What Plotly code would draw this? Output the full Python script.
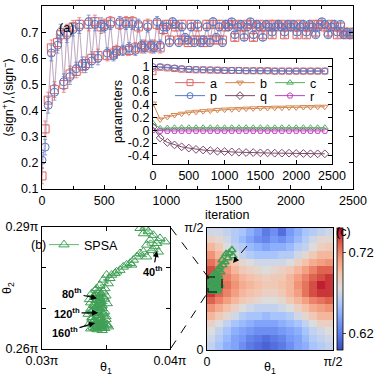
import plotly.graph_objects as go

W, H = 374, 376
def fx(p): return p / W
def fy(p): return 1 - p / H

# ---------------- panel (a): main series ----------------
iters = list(range(0, 2501, 25))
sign_plus = [0.15, 0.33, 0.44, 0.64, 0.48, 0.66, 0.69, 0.50, 0.70, 0.54,
             0.72, 0.55, 0.73, 0.57, 0.58, 0.73, 0.60, 0.74, 0.61, 0.72,
             0.73, 0.61, 0.74, 0.62, 0.63, 0.73, 0.62, 0.74, 0.63, 0.74,
             0.64, 0.72, 0.64, 0.65, 0.73, 0.64, 0.65, 0.73, 0.64, 0.71,
             0.73, 0.67, 0.73, 0.72, 0.67, 0.73, 0.67, 0.66, 0.73, 0.67,
             0.72, 0.67, 0.66, 0.73, 0.67, 0.73, 0.67, 0.73, 0.67, 0.72,
             0.73, 0.73, 0.68, 0.73, 0.72, 0.69, 0.73, 0.73, 0.68, 0.72,
             0.73, 0.69, 0.72, 0.73, 0.69, 0.73, 0.72, 0.73, 0.69, 0.72,
             0.73, 0.72, 0.69, 0.73, 0.72, 0.69, 0.72, 0.73, 0.70, 0.73,
             0.73, 0.72, 0.70, 0.73, 0.72, 0.69, 0.72, 0.70, 0.69, 0.70,
             0.69]
sign_plus_err = [0.03, 0.03, 0.03, 0.03, 0.03, 0.03, 0.03, 0.03, 0.03, 0.03,
                 0.025, 0.025, 0.025, 0.025, 0.025, 0.025, 0.025, 0.025, 0.025, 0.025,
                 0.02, 0.02, 0.02, 0.02, 0.02, 0.02, 0.02, 0.02, 0.02, 0.02,
                 0.02, 0.02, 0.02, 0.02, 0.02, 0.02, 0.02, 0.02, 0.02, 0.02,
                 0.015, 0.015, 0.015, 0.015, 0.015, 0.015, 0.015, 0.015, 0.015, 0.015,
                 0.015, 0.015, 0.015, 0.015, 0.015, 0.015, 0.015, 0.015, 0.015, 0.015,
                 0.012, 0.012, 0.012, 0.012, 0.012, 0.012, 0.012, 0.012, 0.012, 0.012,
                 0.012, 0.012, 0.012, 0.012, 0.012, 0.012, 0.012, 0.012, 0.012, 0.012,
                 0.012, 0.012, 0.012, 0.012, 0.012, 0.012, 0.012, 0.012, 0.012, 0.012,
                 0.012, 0.012, 0.012, 0.012, 0.012, 0.012, 0.012, 0.012, 0.012, 0.012,
                 0.012]
sign_minus = [0.21, 0.26, 0.42, 0.62, 0.47, 0.65, 0.70, 0.51, 0.69, 0.53,
              0.71, 0.56, 0.72, 0.58, 0.57, 0.74, 0.59, 0.73, 0.60, 0.73,
              0.72, 0.62, 0.73, 0.61, 0.62, 0.74, 0.63, 0.73, 0.64, 0.73,
              0.63, 0.73, 0.65, 0.64, 0.72, 0.65, 0.64, 0.74, 0.65, 0.72,
              0.72, 0.66, 0.74, 0.73, 0.66, 0.72, 0.68, 0.67, 0.72, 0.66,
              0.73, 0.66, 0.67, 0.72, 0.66, 0.74, 0.68, 0.72, 0.66, 0.73,
              0.72, 0.74, 0.69, 0.72, 0.73, 0.68, 0.72, 0.74, 0.69, 0.73,
              0.72, 0.68, 0.73, 0.72, 0.70, 0.72, 0.73, 0.72, 0.70, 0.73,
              0.72, 0.73, 0.70, 0.72, 0.73, 0.70, 0.73, 0.72, 0.69, 0.72,
              0.74, 0.73, 0.69, 0.72, 0.73, 0.70, 0.73, 0.69, 0.70, 0.69,
              0.70]
sign_minus_err = sign_plus_err

# ---------------- inset: parameters ----------------
param_iters = list(range(0, 2401, 100))
param_a = [0.92, 0.99, 0.98, 0.97, 0.96, 0.955, 0.95, 0.95, 0.945, 0.945, 0.94, 0.94, 0.94,
           0.935, 0.935, 0.935, 0.935, 0.93, 0.93, 0.93, 0.93, 0.93, 0.93, 0.93, 0.93]
param_p = [1.0, 1.0, 0.99, 0.98, 0.97, 0.96, 0.955, 0.95, 0.95, 0.945, 0.94, 0.94, 0.94,
           0.935, 0.935, 0.935, 0.935, 0.93, 0.93, 0.93, 0.93, 0.93, 0.93, 0.93, 0.93]
param_b = [0.42, 0.17, 0.21, 0.24, 0.26, 0.28, 0.29, 0.30, 0.31, 0.32, 0.325, 0.33, 0.335,
           0.34, 0.345, 0.35, 0.35, 0.355, 0.355, 0.36, 0.36, 0.365, 0.365, 0.37, 0.37]
param_c = [0.11, 0.03, 0.035, 0.04, 0.04, 0.04, 0.04, 0.04, 0.04, 0.04, 0.04, 0.04, 0.04,
           0.04, 0.04, 0.04, 0.04, 0.04, 0.04, 0.04, 0.04, 0.04, 0.04, 0.04, 0.04]
param_q = [0.05, -0.12, -0.19, -0.23, -0.26, -0.28, -0.30, -0.31, -0.32, -0.33, -0.335, -0.34,
           -0.345, -0.35, -0.35, -0.355, -0.355, -0.36, -0.36, -0.36, -0.365, -0.365, -0.37, -0.37, -0.37]
param_r = [0.0, -0.01, -0.01, -0.01, -0.01, -0.01, -0.01, -0.01, -0.01, -0.01, -0.01, -0.01, -0.01,
           -0.01, -0.01, -0.01, -0.01, -0.01, -0.01, -0.01, -0.01, -0.01, -0.01, -0.01, -0.01]
inset_yticks = [1, 0.8, 0.6, 0.4, 0.2, 0, -0.2, -0.4]
inset_yticktext = ["1", "0.8", "0.6", "0.4", "0.2", "0", "-0.2", "-0.4"]

# ---------------- panel (b): SPSA trajectory (units of pi) ----------------
spsa_theta1 = [0.03766, 0.03805, 0.03792, 0.03831, 0.0387, 0.03922, 0.03961, 0.03896, 0.03844, 0.03818,
               0.03883, 0.03909, 0.03857, 0.03792, 0.03766, 0.03818, 0.0374, 0.03714, 0.03688, 0.03661,
               0.03701, 0.03635, 0.03609, 0.03583, 0.0357, 0.03544, 0.03505, 0.03531, 0.03479, 0.03518,
               0.03453, 0.03492, 0.03427, 0.0342, 0.0348, 0.0339, 0.0350, 0.0344, 0.0337, 0.03453,
               0.03414, 0.03479, 0.0346, 0.0351, 0.03427, 0.0341, 0.03453, 0.0347, 0.03401, 0.0338,
               0.03466, 0.0349, 0.0344, 0.0343, 0.0336, 0.03414, 0.0350, 0.03479, 0.0345, 0.03427,
               0.0339, 0.03453, 0.0348, 0.03401, 0.0342, 0.03479, 0.0337, 0.0351, 0.0344, 0.0346,
               0.0340, 0.03414, 0.0349, 0.03466, 0.0343, 0.03505, 0.0347, 0.0338, 0.0352,
               0.0341, 0.0345, 0.0349, 0.0338, 0.0343, 0.0347, 0.0340, 0.0344, 0.0348, 0.0339,
               0.0345, 0.0350, 0.0342, 0.0346, 0.0341, 0.0347, 0.0343, 0.0339, 0.0346, 0.0344]
spsa_theta2 = [0.2897, 0.2898, 0.2884, 0.2889, 0.2880, 0.2872, 0.2864, 0.2860, 0.2868, 0.2856,
               0.2852, 0.2839, 0.2843, 0.2839, 0.2835, 0.2827, 0.2827, 0.2819, 0.2811, 0.2807,
               0.2807, 0.2802, 0.2794, 0.2790, 0.2786, 0.2782, 0.2782, 0.2774, 0.2770, 0.2761,
               0.2757, 0.2749, 0.2749, 0.2745, 0.2741, 0.2737, 0.2731, 0.2737, 0.2722, 0.2725,
               0.2733, 0.2729, 0.2716, 0.2712, 0.2720, 0.2706, 0.2712, 0.2700, 0.2708, 0.2698,
               0.2704, 0.2692, 0.2696, 0.2690, 0.2686, 0.2688, 0.2680, 0.2684, 0.2677, 0.2679,
               0.2674, 0.2671, 0.2669, 0.2667, 0.2666, 0.2663, 0.2662, 0.2660, 0.2655, 0.2657,
               0.2654, 0.2651, 0.2651, 0.2652, 0.2648, 0.2659, 0.2646, 0.2650, 0.2655,
               0.2727, 0.2719, 0.2723, 0.2714, 0.2703, 0.2708, 0.2694, 0.2683, 0.2689, 0.2678,
               0.2668, 0.2673, 0.2659, 0.2664, 0.2670, 0.2653, 0.2656, 0.2693, 0.2735, 0.2710]

# ---------------- panel (c): landscape (units of pi/2) ----------------
heat_theta1 = [0.03125, 0.09375, 0.15625, 0.21875, 0.28125, 0.34375, 0.40625, 0.46875,
               0.53125, 0.59375, 0.65625, 0.71875, 0.78125, 0.84375, 0.90625, 0.96875]
heat_theta2 = [0.96875, 0.90625, 0.84375, 0.78125, 0.71875, 0.65625, 0.59375, 0.53125,
               0.46875, 0.40625, 0.34375, 0.28125, 0.21875, 0.15625, 0.09375, 0.03125]
heat_z = [
    [0.670, 0.670, 0.665, 0.660, 0.655, 0.645, 0.635, 0.620, 0.630, 0.615, 0.635, 0.645, 0.655, 0.660, 0.665, 0.670],
    [0.685, 0.680, 0.670, 0.660, 0.650, 0.640, 0.630, 0.625, 0.635, 0.630, 0.640, 0.650, 0.660, 0.670, 0.680, 0.680],
    [0.700, 0.690, 0.675, 0.665, 0.660, 0.650, 0.645, 0.640, 0.645, 0.645, 0.650, 0.660, 0.665, 0.675, 0.685, 0.690],
    [0.715, 0.700, 0.690, 0.675, 0.665, 0.660, 0.655, 0.655, 0.655, 0.660, 0.660, 0.670, 0.680, 0.690, 0.700, 0.700],
    [0.725, 0.715, 0.700, 0.690, 0.680, 0.675, 0.670, 0.670, 0.670, 0.670, 0.675, 0.685, 0.695, 0.705, 0.710, 0.715],
    [0.735, 0.725, 0.715, 0.700, 0.690, 0.685, 0.680, 0.675, 0.680, 0.685, 0.690, 0.700, 0.710, 0.720, 0.730, 0.730],
    [0.740, 0.730, 0.720, 0.710, 0.700, 0.695, 0.690, 0.685, 0.690, 0.690, 0.700, 0.710, 0.720, 0.730, 0.735, 0.740],
    [0.745, 0.740, 0.725, 0.715, 0.705, 0.700, 0.695, 0.690, 0.690, 0.695, 0.700, 0.715, 0.725, 0.735, 0.745, 0.740],
    [0.740, 0.730, 0.720, 0.710, 0.700, 0.695, 0.690, 0.685, 0.685, 0.690, 0.700, 0.710, 0.725, 0.735, 0.740, 0.740],
    [0.730, 0.720, 0.710, 0.700, 0.690, 0.685, 0.680, 0.675, 0.675, 0.680, 0.690, 0.700, 0.710, 0.720, 0.725, 0.730],
    [0.715, 0.705, 0.695, 0.685, 0.675, 0.670, 0.665, 0.665, 0.665, 0.670, 0.675, 0.685, 0.695, 0.705, 0.710, 0.715],
    [0.700, 0.690, 0.680, 0.670, 0.660, 0.655, 0.655, 0.650, 0.655, 0.655, 0.660, 0.670, 0.680, 0.690, 0.700, 0.700],
    [0.685, 0.675, 0.665, 0.655, 0.650, 0.645, 0.640, 0.640, 0.640, 0.645, 0.650, 0.655, 0.665, 0.675, 0.685, 0.685],
    [0.675, 0.665, 0.655, 0.645, 0.640, 0.635, 0.630, 0.630, 0.630, 0.635, 0.640, 0.645, 0.655, 0.665, 0.670, 0.675],
    [0.670, 0.660, 0.650, 0.640, 0.635, 0.625, 0.620, 0.615, 0.620, 0.625, 0.635, 0.640, 0.650, 0.660, 0.665, 0.670],
    [0.665, 0.655, 0.645, 0.640, 0.630, 0.620, 0.615, 0.610, 0.615, 0.620, 0.630, 0.640, 0.645, 0.655, 0.660, 0.665],
]
overlay_theta1 = [0.198, 0.175, 0.206, 0.151, 0.167, 0.143, 0.119, 0.127, 0.103, 0.087, 0.111, 0.071,
                  0.087, 0.056, 0.095, 0.079, 0.063, 0.032, 0.048, 0.024, 0.071, 0.103, 0.040, 0.063,
                  0.048, 0.087, 0.032, 0.056, 0.040, 0.079, 0.048,
                  0.060, 0.075, 0.050, 0.065, 0.080, 0.045, 0.058, 0.072, 0.038, 0.052, 0.068, 0.083,
                  0.044, 0.060, 0.074, 0.036, 0.055, 0.070]
overlay_theta2 = [0.820, 0.795, 0.770, 0.787, 0.754, 0.721, 0.738, 0.697, 0.680, 0.656, 0.639, 0.631,
                  0.607, 0.598, 0.590, 0.574, 0.582, 0.574, 0.557, 0.549, 0.541, 0.533, 0.525, 0.516,
                  0.508, 0.500, 0.500, 0.492, 0.484, 0.484, 0.615,
                  0.620, 0.610, 0.590, 0.595, 0.560, 0.570, 0.545, 0.555, 0.535, 0.520, 0.515, 0.510,
                  0.500, 0.495, 0.500, 0.515, 0.480, 0.490]

RED = "#e0605f"
BLUE = "#5a78c4"
GREEN = "#3f9f55"
FONT = "Liberation Sans, Arial, sans-serif"

def ax_x(p): return (p - 42) / (353 - 42) * 2500
def ax_y(p): return 0.8 - (p - 6) / (189 - 6) * 0.7

fig = go.Figure()

fig.add_trace(go.Scatter(x=iters, y=sign_plus, mode="lines+markers", showlegend=False,
                         line=dict(color="rgba(224,96,95,0.6)", width=0.6),
                         marker=dict(symbol="square-open", size=8, color=RED, line=dict(width=1)),
                         error_y=dict(type="data", array=sign_plus_err, color=RED, thickness=0.7, width=2),
                         xaxis="x", yaxis="y"))
fig.add_trace(go.Scatter(x=iters, y=sign_minus, mode="lines+markers", showlegend=False,
                         line=dict(color="rgba(90,120,196,0.6)", width=0.6),
                         marker=dict(symbol="circle-open", size=8, color=BLUE, line=dict(width=1)),
                         error_y=dict(type="data", array=sign_minus_err, color=BLUE, thickness=0.7, width=2),
                         xaxis="x", yaxis="y"))
# white mask behind the inset and its tick labels
mx0, mx1, my0, my1 = ax_x(118), ax_x(336), ax_y(56), ax_y(182)
fig.add_trace(go.Scatter(x=[mx0, mx1, mx1, mx0, mx0], y=[my0, my0, my1, my1, my0], mode="lines",
                         fill="toself", fillcolor="white", line=dict(width=0), hoverinfo="skip",
                         showlegend=False, xaxis="x", yaxis="y"))

params = [
    ("a", param_a, "#e06666", "square-open", "legend", 170, 83),
    ("b", param_b, "#d4874f", "triangle-down-open", "legend2", 220, 83),
    ("c", param_c, "#55b060", "triangle-up-open", "legend3", 270, 83),
    ("p", param_p, "#5a78c4", "circle-open", "legend4", 170, 96),
    ("q", param_q, "#7a4a6a", "diamond-open", "legend5", 220, 96),
    ("r", param_r, "#c040c0", "pentagon-open", "legend6", 270, 96),
]
legend_layout = {}
for name, vals, col, sym, leg, lx, ly in params:
    fig.add_trace(go.Scatter(x=param_iters, y=vals, mode="lines+markers", name=name,
                             line=dict(color=col, width=1),
                             marker=dict(symbol=sym, size=6, color=col, line=dict(width=1)),
                             xaxis="x2", yaxis="y2", legend=leg))
    legend_layout[leg] = dict(orientation="h", x=fx(lx), xanchor="left", y=fy(ly), yanchor="middle",
                              bgcolor="rgba(0,0,0,0)", font=dict(size=12.5), itemwidth=30)

fig.add_trace(go.Scatter(x=spsa_theta1, y=spsa_theta2, mode="lines+markers", name="SPSA",
                         line=dict(color=GREEN, width=0.8),
                         marker=dict(symbol="triangle-up-open", size=9, color=GREEN, line=dict(width=1)),
                         xaxis="x3", yaxis="y3", legend="legend7"))
legend_layout["legend7"] = dict(orientation="h", x=fx(44), xanchor="left", y=fy(245), yanchor="middle",
                                bgcolor="rgba(0,0,0,0)", font=dict(size=12.5), itemwidth=30)

coolwarm = [[0, "#3b4cc0"], [0.125, "#5a78e4"], [0.25, "#7b9ff9"], [0.375, "#aac7fd"],
            [0.5, "#dddcdc"], [0.625, "#f5c4ac"], [0.75, "#f39b7c"], [0.875, "#dd604c"], [1, "#b40426"]]
fig.add_trace(go.Heatmap(x=heat_theta1, y=heat_theta2, z=heat_z, colorscale=coolwarm,
                         zmin=0.60, zmax=0.75, xaxis="x4", yaxis="y4",
                         colorbar=dict(x=fx(337), xanchor="left", y=fy(289), yanchor="middle",
                                       len=122 / H, lenmode="fraction", thickness=6, xpad=0, ypad=0,
                                       tickvals=[0.62, 0.72], ticktext=["0.62", "0.72"],
                                       ticks="outside", ticklen=3, outlinewidth=0.8, outlinecolor="black",
                                       tickfont=dict(size=13, family=FONT, color="black"))))
fig.add_trace(go.Scatter(x=overlay_theta1, y=overlay_theta2, mode="markers", showlegend=False,
                         marker=dict(symbol="triangle-up-open", size=7, color=GREEN, line=dict(width=1.5)),
                         xaxis="x4", yaxis="y4"))

axcommon = dict(showline=True, linecolor="black", linewidth=1.2, mirror="allticks", ticks="inside",
                ticklen=4, tickcolor="black", showgrid=False, zeroline=False, automargin=False,
                tickfont=dict(size=12.5, family=FONT, color="black"))
plain = dict(showline=True, linecolor="black", linewidth=1.2, mirror=True, ticks="", showgrid=False,
             zeroline=False, automargin=False, tickfont=dict(size=12.5, family=FONT, color="black"))

fig.update_layout(
    template="none",
    width=W, height=H, margin=dict(l=0, r=0, t=0, b=0, autoexpand=False),
    paper_bgcolor="white", plot_bgcolor="white",
    font=dict(family=FONT, size=12.5, color="black"),
    xaxis=dict(domain=[fx(42), fx(353)], range=[0, 2500], tickvals=[0, 500, 1000, 1500, 2000, 2500],
               minor=dict(ticks="inside", dtick=250, ticklen=3, tickcolor="black"), **axcommon),
    yaxis=dict(domain=[fy(189), fy(6)], range=[0.1, 0.8], dtick=0.1, tickformat=".1f",
               title=dict(text="⟨sign<sup>+</sup>⟩,⟨sign<sup>−</sup>⟩", standoff=6, font=dict(size=12.5)),
               **axcommon),
    xaxis2=dict(domain=[fx(153), fx(332)], range=[0, 2500], tickvals=[0, 500, 1000, 1500, 2000, 2500],
                anchor="y2", **axcommon),
    yaxis2=dict(domain=[fy(164), fy(59)], range=[-0.53, 1.12], tickvals=inset_yticks, ticktext=inset_yticktext,
                anchor="x2", title=dict(text="parameters", standoff=2, font=dict(size=12.5)), **axcommon),
    xaxis3=dict(domain=[fx(42), fx(170)], range=[0.03, 0.04], tickvals=[0.03, 0.04],
                ticktext=["0.03π", "0.04π"], anchor="y3",
                minor=dict(tickvals=[0.035], ticks="inside", ticklen=4, tickcolor="black"),
                title=dict(text="θ<sub>1</sub>", standoff=4, font=dict(size=12.5)), **axcommon),
    yaxis3=dict(domain=[fy(349), fy(227)], range=[0.26, 0.29], tickvals=[0.26, 0.29],
                ticktext=["0.26π", "0.29π"], anchor="x3",
                minor=dict(tickvals=[0.27, 0.28], ticks="inside", ticklen=4, tickcolor="black"),
                title=dict(text="θ<sub>2</sub>", standoff=2, font=dict(size=12.5)), **axcommon),
    xaxis4=dict(domain=[fx(207), fx(333)], range=[0, 1], tickvals=[0, 1], ticktext=["0", "π/2"], anchor="y4",
                title=dict(text="θ<sub>1</sub>", standoff=2, font=dict(size=12.5)), **plain),
    yaxis4=dict(domain=[fy(350), fy(228)], range=[0, 1], tickvals=[0, 1], ticktext=["0", "π/2"], anchor="x4",
                **plain),
    **legend_layout,
)

dash = dict(color="black", width=1, dash="dash")
fig.add_shape(type="rect", xref="paper", yref="paper", x0=fx(208), x1=fx(222), y0=fy(292), y1=fy(277), line=dash)
fig.add_shape(type="line", xref="paper", yref="paper", x0=fx(171), y0=fy(228), x1=fx(208), y1=fy(277), line=dash)
fig.add_shape(type="line", xref="paper", yref="paper", x0=fx(171), y0=fy(348), x1=fx(208), y1=fy(292), line=dash)
fig.add_shape(type="line", xref="paper", yref="paper", x0=fx(247), y0=fy(246), x1=fx(236), y1=fy(259), line=dash)
head = [(233, 263), (239.1, 260.3), (234.5, 256.5)]
path = "M %f %f L %f %f L %f %f Z" % tuple(v for p in head for v in (fx(p[0]), fy(p[1])))
fig.add_shape(type="path", xref="paper", yref="paper", path=path, fillcolor="black", line=dict(width=0))

ann = []
for txt, x, y, axp, ayp in [("40", 0.03898, 0.2841, -4, 20), ("80", 0.0343, 0.2725, -25, -5),
                            ("120", 0.03438, 0.2689, -31, 0), ("160", 0.03414, 0.2664, -30, 9)]:
    ann.append(dict(xref="x3", yref="y3", x=x, y=y, ax=axp, ay=ayp,
                    text="<b>%s<sup>th</sup></b>" % txt, showarrow=True, arrowhead=2, arrowsize=1,
                    arrowwidth=1.2, arrowcolor="black", font=dict(size=11)))
for txt, x, y in [("(a)", 57, 19), ("(b)", 29, 245), ("(c)", 353, 232), ("iteration", 252, 215)]:
    ann.append(dict(xref="paper", yref="paper", x=fx(x), y=fy(y), text=txt, showarrow=False,
                    font=dict(size=12.5)))
fig.update_layout(annotations=ann)

fig.write_html("out.html", config={"displayModeBar": False},
               post_script="document.body.style.margin='0';")
